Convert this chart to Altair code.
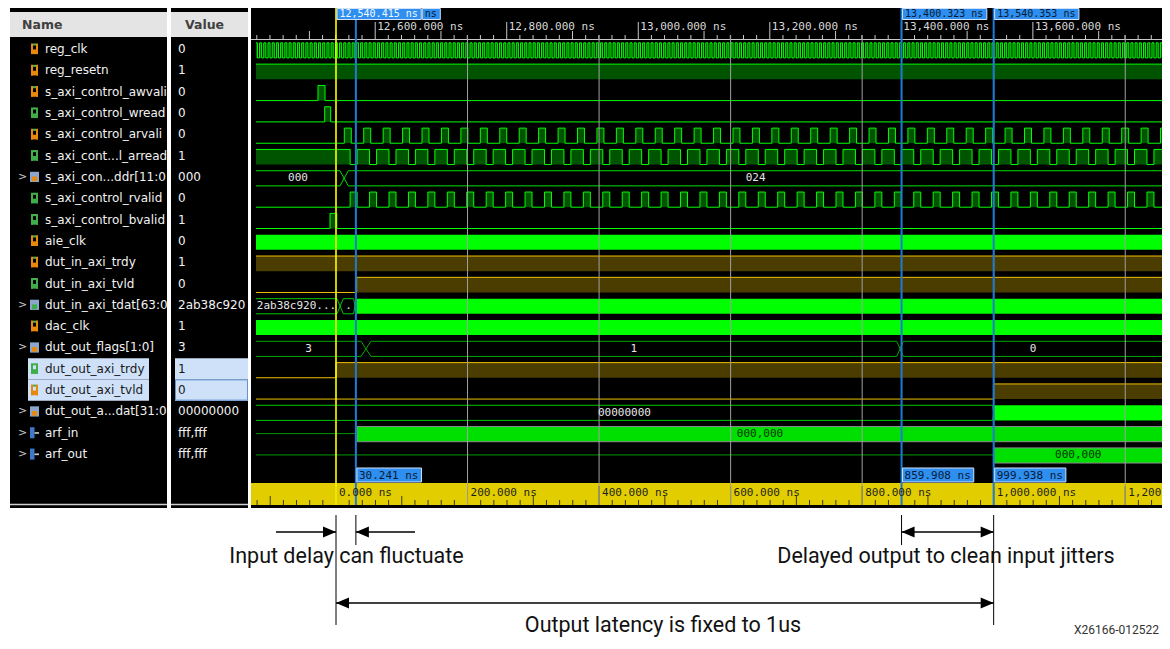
import altair as alt
import pandas as pd

# ---------------------------------------------------------------------------
# Values
# ---------------------------------------------------------------------------
NAMES = ["reg_clk", "reg_resetn", "s_axi_control_awvalid", "s_axi_control_wready",
         "s_axi_control_arvalid", "s_axi_cont...l_arready", "s_axi_con...ddr[11:0]",
         "s_axi_control_rvalid", "s_axi_control_bvalid", "aie_clk", "dut_in_axi_trdy",
         "dut_in_axi_tvld", "dut_in_axi_tdat[63:0]", "dac_clk", "dut_out_flags[1:0]",
         "dut_out_axi_trdy", "dut_out_axi_tvld", "dut_out_a...dat[31:0]", "arf_in", "arf_out"]
VALUES = ["0", "1", "0", "0", "0", "1", "000", "0", "1", "0", "1", "0",
          "2ab38c92000000", "1", "3", "1", "0", "00000000", "fff,fff", "fff,fff"]
ICONS = ["o", "o", "o", "g", "o", "g", "bo", "g", "g", "o", "o", "g", "bg", "o", "bo",
         "g", "o", "bo", "a", "a"]
EXPANDABLE = [6, 12, 14, 17, 18, 19]
HIGHLIGHTED = [15, 16]
YELLOW_ROWS = [10, 11, 15, 16]

# times in ns, relative to the yellow cursor (12,540.415 ns)
CURSOR_ABS_NS = 12540.415
CURSOR_T = [0.0, 30.241, 859.908, 999.938]
TOP_CURSOR_LABELS = ["12,540.415 ns", "ns", "13,400.323 ns", "13,540.353 ns"]
BOTTOM_CURSOR_LABELS = ["", "30.241 ns", "859.908 ns", "999.938 ns"]

TOP_TICK_ABS = [12600, 12800, 13000, 13200, 13400, 13600]
TOP_TICK_LABELS = ["12,600.000 ns", "12,800.000 ns", "13,000.000 ns",
                   "13,200.000 ns", "13,400.000 ns", "13,600.000 ns"]
BOTTOM_TICK_T = [0, 200, 400, 600, 800, 1000, 1200]
BOTTOM_TICK_LABELS = ["0.000 ns", "200.000 ns", "400.000 ns", "600.000 ns",
                      "800.000 ns", "1,000.000 ns", "1,200"]

# single-bit signals: edge times
RESETN_EDGES = []
AWVALID_EDGES = [-27.4, -16.7]
WREADY_EDGES = [-17.2, -8.1]
BVALID_EDGES = [-9.1, 1.2]
IN_TRDY_EDGES = []
IN_TVLD_EDGES = [31.4]
OUT_TRDY_EDGES = [0.0]
OUT_TVLD_EDGES = [999.6]

# clock / periodic AXI-lite handshakes
REG_CLK_PERIOD = 6.4
AXI_PERIOD = 29.55
AXI_PULSE = 10.6
ARVALID_FIRST = 12.6
RVALID_FIRST = 21.5

# buses (None = dense changing data, drawn as a solid band)
ARADDR_VALUES, ARADDR_CHANGES, ARADDR_X = ["000", "024"], [12.4], [12.6]
TDAT_VALUES, TDAT_CHANGES, TDAT_X = ["2ab38c920...", ".", None], [6.3, 28.8], [9.6, 4.0]
FLAGS_VALUES, FLAGS_CHANGES, FLAGS_X = ["3", "1", "0"], [45.6, 857.6], [15.0, 10.0]
OUTDAT_VALUES, OUTDAT_CHANGES, OUTDAT_X = ["00000000", None], [999.6], [2.0]
ARF_IN_CHANGE, ARF_OUT_CHANGE, ARF_LABEL = 31.9, 999.6, "000,000"

ANNOT_TEXTS = ["Input delay can fluctuate", "Delayed output to clean input jitters",
               "Output latency is fixed to 1us"]
FOOTER = "X26166-012522"

# ---------------------------------------------------------------------------
# Layout (pixels of the reference page)
# ---------------------------------------------------------------------------
K = 0.6577          # px per ns
X0 = 336.0          # page x of t = 0
ROW0_Y, ROW_H = 49.0, 21.32
W, H = 1154, 633


def tx(px):
    return (px - X0) / K


def ry(py):
    return (py - ROW0_Y) / ROW_H


T_START, T_END = tx(256), tx(1163)
HI, LO = -0.29, 0.42
MID = (HI + LO) / 2

XS = alt.Scale(domain=[tx(8), tx(8 + W)], nice=False, zero=False)
YS = alt.Scale(domain=[ry(8), ry(8 + H)], nice=False, zero=False, reverse=True)


def X(f):
    return alt.X(f, type="quantitative", scale=XS, axis=None)


def Y(f):
    return alt.Y(f, type="quantitative", scale=YS, axis=None)


def R(t, t2, y, y2, c, w=1.0):
    return dict(t=t, t2=t2, y=y, y2=y2, c=c, w=w)


def B(t, t2, y, y2, c, s="#000000"):
    return dict(t=t, t2=t2, y=y, y2=y2, c=c, s=s)


def T(t, y, s, c):
    return dict(t=t, y=y, s=s, c=c)


bg_rects, bg_srects, bg_rules = [], [], []
wave_rects, wave_srects, wave_rules = [], [], []
grid_rules, cursor_rules, box_rects = [], [], []
txt_sans, txt_head, txt_arrow = [], [], []
txt_mono_left, txt_mono_center, txt_cursor = [], [], []

# panels
for a, b in [(10, 167), (171, 248), (251, 1165)]:
    bg_rects.append(B(tx(a), tx(b), ry(5), ry(508), "#000000"))
for a, b in [(10, 167), (171, 248)]:
    bg_rects.append(B(tx(a), tx(b), ry(12), ry(37), "#e4e4e4"))
    bg_rules.append(R(tx(a), tx(b), ry(504.5), ry(504.5), "#d0d0d0", 1.5))
txt_head.append(T(tx(22), ry(24.5), "Name", "#404040"))
txt_head.append(T(tx(185), ry(24.5), "Value", "#404040"))

# highlighted rows
for r in HIGHLIGHTED:
    bg_rects.append(B(tx(28), tx(149), r - 0.5, r + 0.5, "#cfe1f8"))
    bg_rects.append(B(tx(175), tx(248), r - 0.5, r + 0.5, "#cfe1f8"))
bg_srects.append(B(tx(175.5), tx(247.5), HIGHLIGHTED[-1] - 0.48, HIGHLIGHTED[-1] + 0.47,
                   "#cfe1f8", "#5f95d3"))

# names, values, icons
ICON_COL = {"o": "#e8890c", "g": "#3fae49"}
for r, (n, v, ic) in enumerate(zip(NAMES, VALUES, ICONS)):
    col = "#1a1a1a" if r in HIGHLIGHTED else "#f2f2f2"
    txt_sans.append(dict(t=tx(45), y=r, s=n, c=col, kind="name"))
    txt_sans.append(dict(t=tx(178), y=r, s=v, c=col, kind="value"))
    if ic in ("o", "g"):
        c = ICON_COL[ic]
        bg_rects.append(B(tx(31), tx(33), r - 0.26, r + 0.24, c))
        bg_rects.append(B(tx(36), tx(38), r - 0.26, r + 0.24, c))
        bg_rects.append(B(tx(31), tx(38), r + 0.02, r + 0.24, c))
        bg_rects.append(B(tx(33), tx(36), r - 0.26, r - 0.16, "#4caf50"))
    elif ic in ("bo", "bg"):
        bg_rects.append(B(tx(30), tx(39), r - 0.24, r + 0.24, "#8aa6cc"))
        bg_rects.append(B(tx(32), tx(37), r - 0.02, r + 0.2, ICON_COL[ic[1]]))
    else:
        bg_rects.append(B(tx(30), tx(34.5), r - 0.26, r + 0.26, "#3f78c8"))
        bg_rects.append(B(tx(34.5), tx(39), r - 0.03, r + 0.05, "#c8c8c8"))
    if r in EXPANDABLE:
        txt_arrow.append(T(tx(18), r, ">", "#c8c8c8"))

# top ruler
bg_rules.append(R(tx(251), tx(1165), ry(39.5), ry(39.5), "#c8c8c8", 1))
for a in range(12360, 13821, 20):
    t = a - CURSOR_ABS_NS
    if t < tx(253) or t > T_END:
        continue
    top = 22 if a % 200 == 0 else (31 if a % 100 == 0 else 35)
    bg_rules.append(R(t, t, ry(top), ry(39), "#c8c8c8", 1))
for a, lab in zip(TOP_TICK_ABS, TOP_TICK_LABELS):
    txt_mono_left.append(T(a - CURSOR_ABS_NS + 2 / K, ry(27), lab, "#d8d8d8"))

# bottom ruler
bg_rects.append(B(tx(251), tx(1165), ry(483), ry(505), "#e2cd00"))
for t in range(-120, 1261, 20):
    top = 486 if t % 200 == 0 else (496 if t % 100 == 0 else 500)
    bg_rules.append(R(t, t, ry(top), ry(505), "#3a3a1a", 1))
for t, lab in zip(BOTTOM_TICK_T, BOTTOM_TICK_LABELS):
    txt_mono_left.append(T(t + 3 / K, ry(492.5), lab, "#1e1e1e"))

# grid lines
for t in BOTTOM_TICK_T[1:]:
    grid_rules.append(R(t, t, ry(35), ry(505), "#a0a0a0", 1))

# ---------------------------------------------------------------------------
# waveforms
# ---------------------------------------------------------------------------
def colors(row):
    return ("#f0c000", "#4b3c00") if row in YELLOW_ROWS else ("#00ff00", "#005400")


def bit_wave(row, init, edges):
    line, fill = colors(row)
    hi, lo = row + HI, row + LO
    level, t = init, T_START
    for e in edges:
        if e <= T_START:
            level = 1 - level
            continue
        if e >= T_END:
            break
        y = hi if level else lo
        wave_rules.append(R(t, e, y, y, line))
        if level:
            wave_rects.append(B(t, e, hi, lo, fill))
        wave_rules.append(R(e, e, hi, lo, line))
        level, t = 1 - level, e
    y = hi if level else lo
    wave_rules.append(R(t, T_END, y, y, line))
    if level:
        wave_rects.append(B(t, T_END, hi, lo, fill))


def pulse_edges(first, period, width):
    out, s = [], first
    while s < T_END:
        out += [s, s + width]
        s += period
    return out


clk_edges = pulse_edges(T_START - 1.0, REG_CLK_PERIOD, REG_CLK_PERIOD / 2)
bit_wave(0, 0, clk_edges)
bit_wave(1, 1, RESETN_EDGES)
bit_wave(2, 0, AWVALID_EDGES)
bit_wave(3, 0, WREADY_EDGES)
bit_wave(4, 0, pulse_edges(ARVALID_FIRST, AXI_PERIOD, AXI_PULSE))
rvalid_edges = pulse_edges(RVALID_FIRST, AXI_PERIOD, AXI_PULSE)
bit_wave(5, 1, rvalid_edges)
bit_wave(7, 0, rvalid_edges)
bit_wave(8, 0, BVALID_EDGES)
bit_wave(10, 1, IN_TRDY_EDGES)
bit_wave(11, 0, IN_TVLD_EDGES)
bit_wave(15, 0, OUT_TRDY_EDGES)
bit_wave(16, 0, OUT_TVLD_EDGES)

for r in (9, 13):   # clocks too fast to resolve
    wave_rects.append(B(T_START, T_END, r + HI, r + LO, "#00ff00"))


def bus_wave(row, values, changes, widths, line="#00c800"):
    hi, lo = row + HI, row + LO
    starts = [T_START] + [c + w / 2 for c, w in zip(changes, widths)]
    ends = [c - w / 2 for c, w in zip(changes, widths)] + [T_END]
    for v, s, e in zip(values, starts, ends):
        if v is None:
            wave_rects.append(B(s, e, hi, lo, "#00ff00"))
        else:
            wave_rules.append(R(s, e, hi, hi, line))
            wave_rules.append(R(s, e, lo, lo, line))
            txt_mono_center.append(T((s + e) / 2, row + MID, v, "#e6e6e6"))
    for c, w in zip(changes, widths):
        wave_rules.append(R(c - w / 2, c + w / 2, hi, lo, line))
        wave_rules.append(R(c - w / 2, c + w / 2, lo, hi, line))


bus_wave(6, ARADDR_VALUES, ARADDR_CHANGES, ARADDR_X, "#00e000")
bus_wave(12, TDAT_VALUES, TDAT_CHANGES, TDAT_X)
bus_wave(14, FLAGS_VALUES, FLAGS_CHANGES, FLAGS_X, "#00a800")
bus_wave(17, OUTDAT_VALUES, OUTDAT_CHANGES, OUTDAT_X)


def analog_wave(row, change, label):
    wave_rules.append(R(T_START, change, row + 0.04, row + 0.04, "#009a00"))
    wave_srects.append(B(change, T_END, row + HI, row + LO, "#00e000", "#8c8c8c"))
    txt_mono_center.append(T((change + T_END) / 2, row + MID, label, "#003000"))


analog_wave(18, ARF_IN_CHANGE, ARF_LABEL)
analog_wave(19, ARF_OUT_CHANGE, ARF_LABEL)

# cursors
cursor_rules.append(R(CURSOR_T[0], CURSOR_T[0], ry(5), ry(505), "#ffff00", 1.6))
for t in CURSOR_T[1:]:
    cursor_rules.append(R(t, t, ry(5), ry(505), "#1f7ad6", 2))

CH = 6.02  # px per monospace character (10 px font)
prev_end = -1e9
for i, (t, lab) in enumerate(zip(CURSOR_T, TOP_CURSOR_LABELS)):
    b0 = max(t + 1 / K, prev_end + 1 / K)
    b1 = b0 + (len(lab) * CH + 6) / K
    prev_end = b1
    box_rects.append(B(b0, b1, ry(8.5), ry(19.5), "#2e8ff0", "#cfe2f8"))
    txt_cursor.append(T(b0 + 2.5 / K, ry(14), lab, "#f4f8ff" if i == 0 else "#081a33"))
for t, lab in zip(CURSOR_T, BOTTOM_CURSOR_LABELS):
    if not lab:
        continue
    b0 = t + 1 / K
    b1 = b0 + (len(lab) * 6.62 + 5) / K
    box_rects.append(B(b0, b1, ry(468), ry(482), "#2e8ff0", "#cfe2f8"))
    txt_mono_left.append(T(b0 + 2 / K, ry(475.5), lab, "#081a33"))

# ---------------------------------------------------------------------------
# annotation below the waveform
# ---------------------------------------------------------------------------
ann_rules, heads_r, heads_l, ann_text = [], [], [], []
for t, bottom in zip(CURSOR_T, [625, 545, 545, 625]):
    ann_rules.append(R(t, t, ry(515), ry(bottom), "#000000", 1))
y1, y2 = ry(532), ry(603)
ann_rules.append(R(tx(276), CURSOR_T[0], y1, y1, "#000000", 1.4))
heads_r.append(dict(t=CURSOR_T[0], y=y1))
ann_rules.append(R(tx(415), CURSOR_T[1], y1, y1, "#000000", 1.4))
heads_l.append(dict(t=CURSOR_T[1], y=y1))
ann_rules.append(R(CURSOR_T[2], CURSOR_T[3], y1, y1, "#000000", 1.4))
heads_l.append(dict(t=CURSOR_T[2], y=y1))
heads_r.append(dict(t=CURSOR_T[3], y=y1))
ann_rules.append(R(CURSOR_T[0], CURSOR_T[3], y2, y2, "#000000", 1.4))
heads_l.append(dict(t=CURSOR_T[0], y=y2))
heads_r.append(dict(t=CURSOR_T[3], y=y2))
for lab, px, py in zip(ANNOT_TEXTS, [346.5, 946, 663], [557, 557, 626]):
    ann_text.append(T(tx(px), ry(py), lab, "#111111"))

# ---------------------------------------------------------------------------
# chart
# ---------------------------------------------------------------------------
def rect_layer(rows, stroked=False):
    df = pd.DataFrame(rows)
    if stroked:
        return alt.Chart(df).mark_rect(strokeWidth=1).encode(
            x=X("t"), x2="t2", y=Y("y"), y2="y2",
            fill=alt.Fill("c:N", scale=None), stroke=alt.Stroke("s:N", scale=None))
    return alt.Chart(df).mark_rect().encode(
        x=X("t"), x2="t2", y=Y("y"), y2="y2", color=alt.Color("c:N", scale=None))


def rule_layer(rows):
    df = pd.DataFrame(rows)
    return alt.Chart(df).mark_rule().encode(
        x=X("t"), x2="t2", y=Y("y"), y2="y2",
        color=alt.Color("c:N", scale=None),
        strokeWidth=alt.StrokeWidth("w:Q", scale=None))


def text_layer(rows, font, size, align="left", weight="normal", limit=None):
    df = pd.DataFrame(rows)
    kw = dict(font=font, fontSize=size, align=align, baseline="middle", fontWeight=weight)
    if limit:
        kw.update(limit=limit, ellipsis="\u200b")
    return alt.Chart(df).mark_text(**kw).encode(
        x=X("t"), y=Y("y"), text="s:N", color=alt.Color("c:N", scale=None))


names = [d for d in txt_sans if d["kind"] == "name"]
vals = [d for d in txt_sans if d["kind"] == "value"]

head_path_r = "M0,0L-2,-0.85L-2,0.85Z"
head_path_l = "M0,0L2,-0.85L2,0.85Z"

layers = [
    rect_layer(bg_rects),
    rect_layer(bg_srects, stroked=True),
    rule_layer(bg_rules),
    rect_layer(wave_rects),
    rect_layer(wave_srects, stroked=True),
    rule_layer(wave_rules),
    rule_layer(grid_rules),
    rule_layer(cursor_rules),
    rect_layer(box_rects, stroked=True),
    text_layer(names, "DejaVu Sans", 12, limit=124),
    text_layer(vals, "DejaVu Sans", 12, limit=71),
    text_layer(txt_head, "DejaVu Sans", 12.5, weight="bold"),
    text_layer(txt_arrow, "DejaVu Sans", 11),
    text_layer(txt_mono_left, "DejaVu Sans Mono", 11),
    text_layer(txt_cursor, "DejaVu Sans Mono", 10),
    text_layer(txt_mono_center, "DejaVu Sans Mono", 11, align="center"),
    rule_layer(ann_rules),
    alt.Chart(pd.DataFrame(heads_r)).mark_point(
        shape=head_path_r, filled=True, size=169, color="#000000", opacity=1
    ).encode(x=X("t"), y=Y("y")),
    alt.Chart(pd.DataFrame(heads_l)).mark_point(
        shape=head_path_l, filled=True, size=169, color="#000000", opacity=1
    ).encode(x=X("t"), y=Y("y")),
    text_layer(ann_text, "Roboto", 21.5, align="center"),
    text_layer([T(tx(1074), ry(630), FOOTER, "#333333")], "Roboto", 12),
]

chart = alt.layer(*layers).properties(
    width=W, height=H, padding=0, background="white",
    autosize=alt.AutoSizeParams(type="none"),
).configure_view(stroke=None)

chart.save("out.html", embed_options={"renderer": "svg", "actions": False})
